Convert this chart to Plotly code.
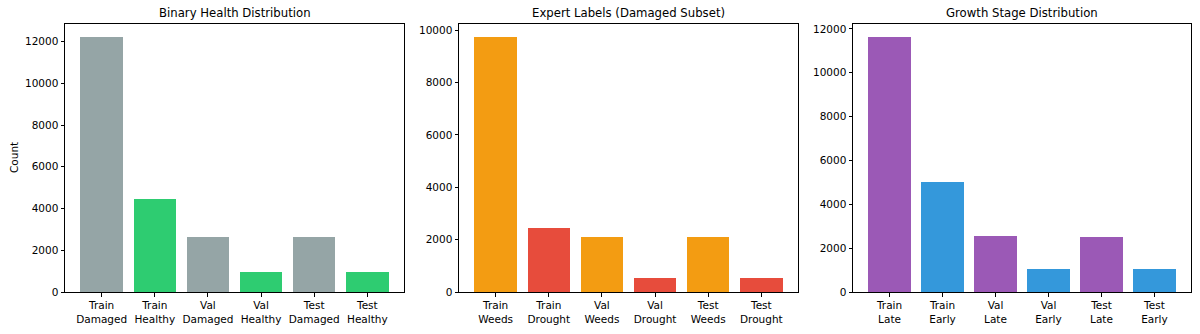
import plotly.graph_objects as go

health_labels = ["Train<br>Damaged", "Train<br>Healthy", "Val<br>Damaged", "Val<br>Healthy", "Test<br>Damaged", "Test<br>Healthy"]
health_values = [12230, 4470, 2620, 945, 2620, 945]
health_colors = ["#95a5a6", "#2ecc71", "#95a5a6", "#2ecc71", "#95a5a6", "#2ecc71"]

expert_labels = ["Train<br>Weeds", "Train<br>Drought", "Val<br>Weeds", "Val<br>Drought", "Test<br>Weeds", "Test<br>Drought"]
expert_values = [9750, 2435, 2090, 535, 2090, 535]
expert_colors = ["#f39c12", "#e74c3c", "#f39c12", "#e74c3c", "#f39c12", "#e74c3c"]

growth_labels = ["Train<br>Late", "Train<br>Early", "Val<br>Late", "Val<br>Early", "Test<br>Late", "Test<br>Early"]
growth_values = [11640, 5020, 2555, 1035, 2500, 1060]
growth_colors = ["#9b59b6", "#3498db", "#9b59b6", "#3498db", "#9b59b6", "#3498db"]

titles = ["Binary Health Distribution", "Expert Labels (Damaged Subset)", "Growth Stage Distribution"]
y_ticks = [[0, 2000, 4000, 6000, 8000, 10000, 12000],
           [0, 2000, 4000, 6000, 8000, 10000],
           [0, 2000, 4000, 6000, 8000, 10000, 12000]]

W, H = 1200, 334
x_px = [(65, 404), (459, 798), (853, 1191)]
y_px = (24, 292)

FONT = "DejaVu Sans"
fig = go.Figure()
panels = [(health_labels, health_values, health_colors),
          (expert_labels, expert_values, expert_colors),
          (growth_labels, growth_values, growth_colors)]

for i, (labels, values, colors) in enumerate(panels):
    n = i + 1
    sfx = str(n) if n > 1 else ""
    xs = list(range(len(labels)))
    fig.add_trace(go.Bar(x=xs, y=values, marker=dict(color=colors, line=dict(width=0)),
                         width=0.8, xaxis="x" + sfx, yaxis="y" + sfx,
                         showlegend=False))
    vmax = max(values)
    axis_common = dict(showline=True, linecolor="black", linewidth=1, mirror=True,
                       ticks="outside", ticklen=3.5, tickwidth=1, tickcolor="black",
                       showgrid=False, zeroline=False, automargin=False,
                       tickfont=dict(family=FONT, size=10.5, color="black"))
    fig.layout["xaxis" + sfx] = dict(
        domain=[x_px[i][0] / W, x_px[i][1] / W], anchor="y" + sfx,
        range=[-0.69, 5.69], tickvals=xs, ticktext=labels, **axis_common)
    fig.layout["yaxis" + sfx] = dict(
        domain=[1 - y_px[1] / H, 1 - y_px[0] / H], anchor="x" + sfx,
        range=[0, vmax * 1.05], tickvals=y_ticks[i], ticktext=[str(t) for t in y_ticks[i]],
        **axis_common)
    fig.add_annotation(text=titles[i], xref="paper", yref="paper",
                       x=(x_px[i][0] + x_px[i][1]) / 2 / W, y=1 - 13 / H,
                       showarrow=False, xanchor="center", yanchor="middle",
                       font=dict(family=FONT, size=11.7, color="black"))

fig.add_annotation(text="Count", xref="paper", yref="paper", x=14 / W, y=1 - 158 / H,
                   textangle=-90, showarrow=False, xanchor="center", yanchor="middle",
                   font=dict(family=FONT, size=10.5, color="black"))

fig.update_layout(width=W, height=H, margin=dict(l=0, r=0, t=0, b=0, autoexpand=False),
                  paper_bgcolor="white", plot_bgcolor="white", bargap=0)

fig.write_html("out.html")
